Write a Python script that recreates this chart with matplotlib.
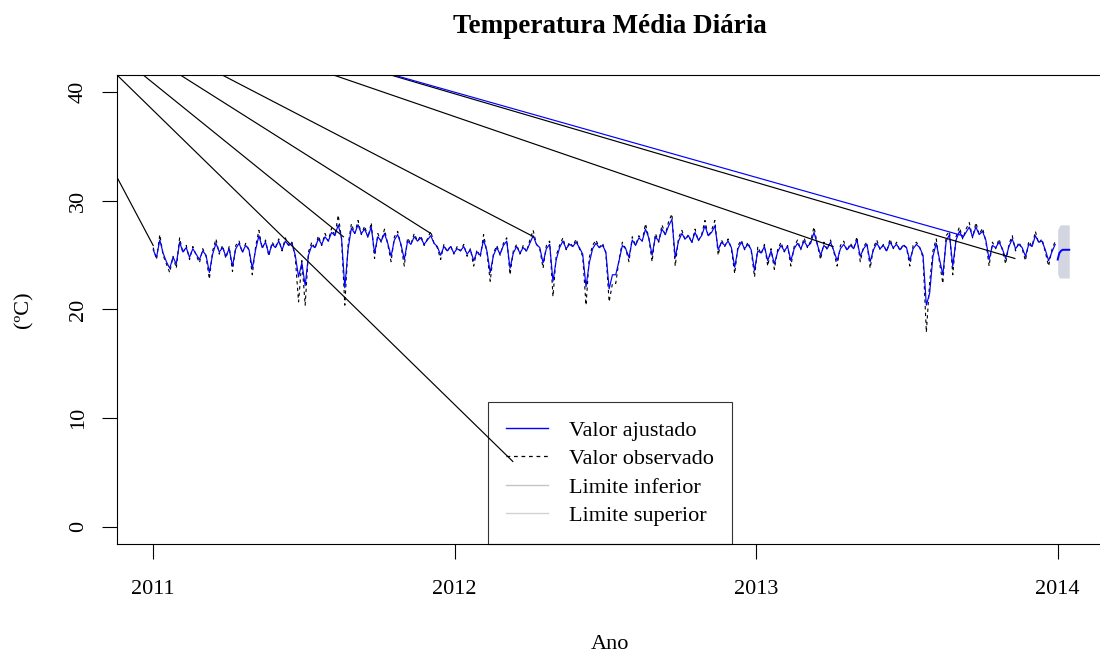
import matplotlib.pyplot as plt
import numpy as np
from matplotlib.lines import Line2D

plt.rcParams['font.family'] = ['Liberation Serif', 'DejaVu Serif']

# serie diaria amostrada a cada 4 dias a partir de 01/01/2011
ano_inicio = 2011
passo_dias = 4

observado = [
    25.7, 24.6, 26.9, 25.0, 24.2, 23.4, 24.9, 23.8, 26.6, 25.2, 25.9, 24.6, 25.8, 25.0, 24.3, 25.6, 24.9, 22.8, 25.4, 26.5, 25.1, 25.9, 24.7,
    25.8, 23.5, 25.9, 26.3, 25.2, 26.1, 25.5, 23.2, 25.8, 27.3, 25.6, 26.4, 24.9, 26.2, 25.7, 26.5, 25.4, 26.6, 25.9, 26.2, 24.8, 20.7, 24.5,
    20.4, 25.3, 26.2, 25.6, 26.8, 25.9, 27.0, 26.3, 27.5, 26.8, 28.7, 26.5, 20.4, 26.0, 27.9, 27.0, 28.2, 26.9, 27.7, 26.6, 28.0, 24.7, 27.0,
    26.2, 27.4, 26.0, 24.4, 26.7, 27.2, 25.9, 24.0, 26.6, 26.0, 27.0, 26.3, 26.8, 25.9, 26.5, 27.2, 26.1, 25.7, 24.6, 26.0, 25.3, 25.9, 25.1,
    25.8, 25.4, 26.0, 24.9, 25.6, 24.0, 25.5, 24.8, 26.9, 25.3, 22.6, 25.2, 25.9, 25.0, 26.1, 26.6, 23.2, 25.4, 26.0, 25.1, 25.9, 25.3, 26.4,
    27.3, 26.0, 25.6, 23.8, 25.9, 26.3, 21.2, 25.0, 25.9, 26.6, 25.5, 26.2, 25.8, 26.5, 25.6, 24.9, 20.4, 24.8, 25.9, 26.4, 25.7, 26.1, 25.2,
    20.7, 22.4, 22.4, 24.6, 26.2, 25.6, 24.4, 26.7, 25.9, 26.8, 26.3, 27.9, 26.6, 24.4, 27.0, 26.2, 27.8, 26.9, 28.1, 28.8, 24.0, 26.6, 27.3,
    26.4, 26.9, 26.1, 27.4, 26.3, 26.9, 28.2, 26.7, 27.3, 28.2, 25.0, 26.4, 25.8, 26.5, 25.6, 23.3, 25.9, 26.4, 25.5, 26.2, 25.4, 23.0, 25.8,
    25.1, 26.0, 24.0, 25.6, 23.7, 25.5, 26.2, 25.3, 25.9, 24.0, 25.8, 26.4, 25.5, 26.6, 25.7, 26.3, 27.6, 26.0, 24.6, 26.2, 25.5, 26.4, 25.3,
    24.0, 25.9, 26.3, 25.4, 26.1, 25.6, 26.7, 24.4, 25.8, 26.2, 23.8, 25.7, 26.4, 25.5, 26.0, 25.3, 26.5, 25.6, 26.2, 25.4, 26.0, 25.7, 24.0,
    25.9, 26.2, 25.7, 24.8, 17.9, 22.5, 25.4, 26.5, 24.3, 22.4, 26.8, 27.2, 23.2, 26.7, 27.6, 26.5, 27.4, 28.0, 26.6, 28.0, 26.9, 27.5, 26.3,
    24.0, 26.2, 25.6, 26.5, 25.5, 24.2, 26.0, 26.8, 25.4, 26.2, 25.6, 24.5, 26.3, 25.8, 27.2, 26.1, 26.5, 25.3, 24.0, 25.5, 26.3,
]

ajustado = [
    25.5, 24.8, 26.4, 25.2, 24.4, 23.8, 24.8, 24.2, 26.2, 25.3, 25.7, 24.8, 25.6, 25.1, 24.6, 25.4, 25.0, 23.4, 25.1, 26.1, 25.3, 25.7, 24.9,
    25.6, 24.0, 25.6, 26.1, 25.3, 25.9, 25.5, 23.8, 25.5, 26.8, 25.7, 26.2, 25.1, 26.0, 25.7, 26.3, 25.5, 26.3, 25.9, 26.1, 25.0, 23.0, 24.3,
    22.2, 25.0, 25.9, 25.7, 26.5, 26.0, 26.7, 26.3, 27.1, 26.8, 27.8, 26.6, 22.0, 25.6, 27.5, 27.0, 27.8, 27.0, 27.4, 26.7, 27.6, 25.2, 26.7,
    26.3, 27.0, 26.1, 24.9, 26.4, 26.9, 26.0, 24.6, 26.3, 26.0, 26.7, 26.3, 26.6, 26.0, 26.4, 26.8, 26.1, 25.8, 25.0, 25.8, 25.4, 25.8, 25.2,
    25.6, 25.4, 25.8, 25.1, 25.5, 24.5, 25.3, 25.0, 26.4, 25.4, 23.4, 25.0, 25.7, 25.1, 25.9, 26.3, 23.8, 25.2, 25.8, 25.2, 25.7, 25.4, 26.1,
    26.8, 26.0, 25.7, 24.3, 25.6, 26.0, 22.6, 24.6, 25.7, 26.3, 25.6, 26.0, 25.8, 26.2, 25.7, 25.1, 22.1, 24.3, 25.6, 26.1, 25.7, 25.9, 25.3,
    21.9, 23.2, 23.2, 24.5, 25.9, 25.6, 24.8, 26.4, 25.9, 26.6, 26.3, 27.4, 26.6, 25.0, 26.7, 26.3, 27.4, 26.9, 27.7, 28.3, 24.8, 26.3, 27.0,
    26.5, 26.8, 26.2, 27.1, 26.4, 26.8, 27.7, 26.8, 27.1, 27.7, 25.5, 26.2, 25.9, 26.3, 25.7, 23.9, 25.6, 26.2, 25.6, 26.0, 25.5, 23.6, 25.4,
    25.2, 25.8, 24.5, 25.4, 24.2, 25.3, 25.9, 25.4, 25.8, 24.5, 25.6, 26.1, 25.6, 26.3, 25.8, 26.1, 27.1, 26.0, 25.0, 25.9, 25.6, 26.2, 25.4,
    24.5, 25.6, 26.0, 25.5, 25.9, 25.6, 26.4, 24.9, 25.6, 26.0, 24.4, 25.5, 26.1, 25.6, 25.9, 25.4, 26.2, 25.7, 26.0, 25.5, 25.9, 25.7, 24.5,
    25.6, 26.0, 25.7, 25.0, 20.4, 21.5, 24.9, 26.1, 24.6, 23.2, 26.3, 26.9, 24.0, 26.4, 27.2, 26.6, 27.1, 27.6, 26.7, 27.6, 26.9, 27.2, 26.4,
    24.6, 25.9, 25.7, 26.2, 25.6, 24.7, 25.8, 26.5, 25.6, 26.0, 25.7, 24.9, 26.0, 25.8, 26.8, 26.2, 26.3, 25.5, 24.5, 25.3, 26.0,
]

# previsao para janeiro de 2014 (passo de 2 dias)
prev_inicio = 2014
prev_passo = 2
previsao = [24.6, 25.2, 25.4, 25.5, 25.5, 25.5, 25.5, 25.5]
limite_inferior = [23.3, 22.9, 22.9, 22.9, 22.9, 22.9, 22.9, 22.9]
limite_superior = [27.3, 27.7, 27.8, 27.8, 27.8, 27.8, 27.8, 27.8]

# segmentos ligando valores fora da escala aos pontos da serie
seg_x0 = [2010.70, 2010.88, 2010.967, 2011.090, 2011.229, 2011.598, 2011.788, 2011.798]
seg_y0 = [41.6, 41.6, 41.6, 41.6, 41.6, 41.6, 41.6, 41.6]
seg_x1 = [2011.0, 2012.193, 2011.631, 2011.921, 2012.262, 2013.255, 2013.858, 2013.685]
seg_y1 = [25.9, 6.0, 26.7, 27.0, 26.7, 25.8, 24.7, 26.8]
seg_cor = ['black'] * 7 + ['blue']

t_obs = ano_inicio + np.arange(len(observado)) * passo_dias / 365
t_prev = prev_inicio + np.arange(len(previsao)) * prev_passo / 365

fig = plt.figure(figsize=(11, 6.55), dpi=100)
ax = fig.add_axes([117 / 1100, 1 - 544 / 655, 985 / 1100, 469 / 655])

ax.plot(t_obs, observado, color='black', linestyle='--', dashes=(3, 3), linewidth=0.8)
ax.plot(t_obs, ajustado, color='blue', linewidth=0.85)

ax.fill_between(t_prev, limite_inferior, limite_superior, color='#d3d5e0', linewidth=0)
ax.plot(t_prev, previsao, color='blue', linewidth=1.4)

for x0, y0, x1, y1, c in zip(seg_x0, seg_y0, seg_x1, seg_y1, seg_cor):
    ax.plot([x0, x1], [y0, y1], color=c, linewidth=0.85)

ax.set_xlim(2010.88, 2014.147)
ax.set_ylim(-1.6, 41.6)
ax.set_xticks([2011, 2012, 2013, 2014])
ax.set_yticks([0, 10, 20, 30, 40])
ax.tick_params(axis='both', direction='out', length=10.8, width=0.8, labelsize=16)
ax.tick_params(axis='x', pad=15)
ax.tick_params(axis='y', pad=10)
for lab in ax.get_yticklabels():
    lab.set_rotation(90)
    lab.set_va('center')
for s in ax.spines.values():
    s.set_linewidth(0.8)
ax.spines['right'].set_visible(False)

ax.set_title('Temperatura Média Diária', fontsize=19.5, fontweight='bold', pad=30)
ax.set_xlabel('Ano', fontsize=16, labelpad=26)
ax.set_ylabel('(ºC)', fontsize=16, labelpad=26)

handles = [
    Line2D([], [], color='blue', linewidth=1.0),
    Line2D([], [], color='black', linestyle='--', dashes=(3, 3), linewidth=0.9),
    Line2D([], [], color='#c4c4c4', linewidth=1.0),
    Line2D([], [], color='#d2d2d2', linewidth=1.0),
]
labels = ['Valor ajustado', 'Valor observado', 'Limite inferior', 'Limite superior']
leg = ax.legend(handles, labels, loc='lower left', bbox_to_anchor=(0.3764, 0.0),
                borderaxespad=0, fontsize=16, frameon=True, fancybox=False,
                edgecolor='black', facecolor='none', framealpha=None,
                handlelength=1.9, handletextpad=0.95, borderpad=0.8, labelspacing=0.36)
leg.get_frame().set_linewidth(0.8)

fig.savefig('out.png', dpi=100)
